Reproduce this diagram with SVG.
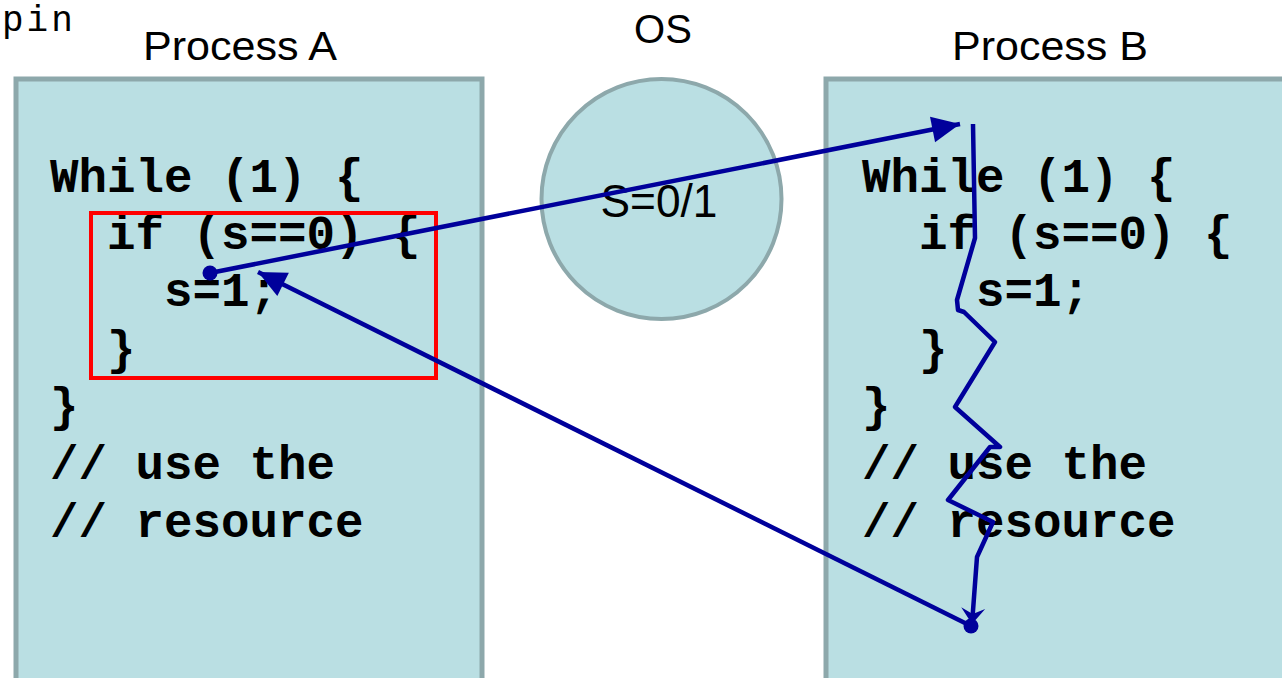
<svg xmlns="http://www.w3.org/2000/svg" width="1282" height="678" viewBox="0 0 1282 678">
<defs>
<style>
.box{fill:#badfe3;stroke:#8da8ab;stroke-width:5}
.title{font-family:"Liberation Sans",Arial,sans-serif;font-size:40px;fill:#000}
.code{font-family:"Liberation Mono","Courier New",monospace;font-weight:bold;font-size:47.5px;fill:#000;white-space:pre}
.conn{fill:none;stroke:#00009b;stroke-width:4.5}
</style>
<marker id="tri" markerUnits="userSpaceOnUse" markerWidth="30" markerHeight="28" refX="28" refY="13" orient="auto" overflow="visible">
<path d="M0,0 L28,13 L0,26 z" fill="#00009b"/>
</marker>
<marker id="dot" markerUnits="userSpaceOnUse" markerWidth="16" markerHeight="16" refX="8" refY="8" overflow="visible">
<circle cx="8" cy="8" r="7.5" fill="#00009b"/>
</marker>
<marker id="stealth" markerUnits="userSpaceOnUse" markerWidth="20" markerHeight="26" refX="16" refY="12" orient="auto" overflow="visible">
<path d="M0,0 L16,12 L0,24 L6,12 z" fill="#00009b"/>
</marker>
</defs>
<rect width="1282" height="678" fill="#fff"/>
<text x="2" y="31" style="font-family:'Liberation Mono',monospace;font-size:36px;letter-spacing:3px;fill:#000">pin</text>
<g id="processA">
<text class="title" x="240" y="60" text-anchor="middle" textLength="194" lengthAdjust="spacingAndGlyphs">Process A</text>
<rect class="box" x="16" y="79" width="466" height="610"/>
<text class="code" x="50" y="192">While (1) {</text>
<text class="code" x="50" y="249">  if (s==0) {</text>
<text class="code" x="50" y="306">    s=1;</text>
<text class="code" x="50" y="364">  }</text>
<text class="code" x="50" y="421">}</text>
<text class="code" x="50" y="479">// use the</text>
<text class="code" x="50" y="537">// resource</text>
<rect x="91" y="213" width="345" height="165" fill="none" stroke="#ff0000" stroke-width="4"/>
</g>
<g id="os">
<text class="title" x="663" y="43" text-anchor="middle">OS</text>
<circle cx="661.5" cy="199" r="120" fill="#badfe3" stroke="#8da8ab" stroke-width="4"/>
<text x="659" y="217" text-anchor="middle" textLength="117" lengthAdjust="spacingAndGlyphs" style="font-family:'Liberation Sans',Arial,sans-serif;font-size:46px;fill:#000">S=0/1</text>
</g>
<g id="processB">
<text class="title" x="1050" y="60" text-anchor="middle" textLength="196" lengthAdjust="spacingAndGlyphs">Process B</text>
<rect class="box" x="826" y="79" width="480" height="610"/>
<text class="code" x="862" y="192">While (1) {</text>
<text class="code" x="862" y="249">  if (s==0) {</text>
<text class="code" x="862" y="306">    s=1;</text>
<text class="code" x="862" y="364">  }</text>
<text class="code" x="862" y="421">}</text>
<text class="code" x="862" y="479">// use the</text>
<text class="code" x="862" y="537">// resource</text>
</g>
<g id="connectors">
<line class="conn" x1="210" y1="273" x2="960" y2="124" marker-start="url(#dot)" marker-end="url(#tri)"/>
<line class="conn" x1="971" y1="626" x2="258" y2="272" marker-start="url(#dot)" marker-end="url(#tri)"/>
<polyline class="conn" stroke-width="4" stroke-linejoin="round" points="973,124 975,238 957,300 958,310 964,312 995,342 955,407 1000,447 990,447 948,500 993,522 977,557 972,624" marker-end="url(#stealth)"/>
</g>
</svg>
